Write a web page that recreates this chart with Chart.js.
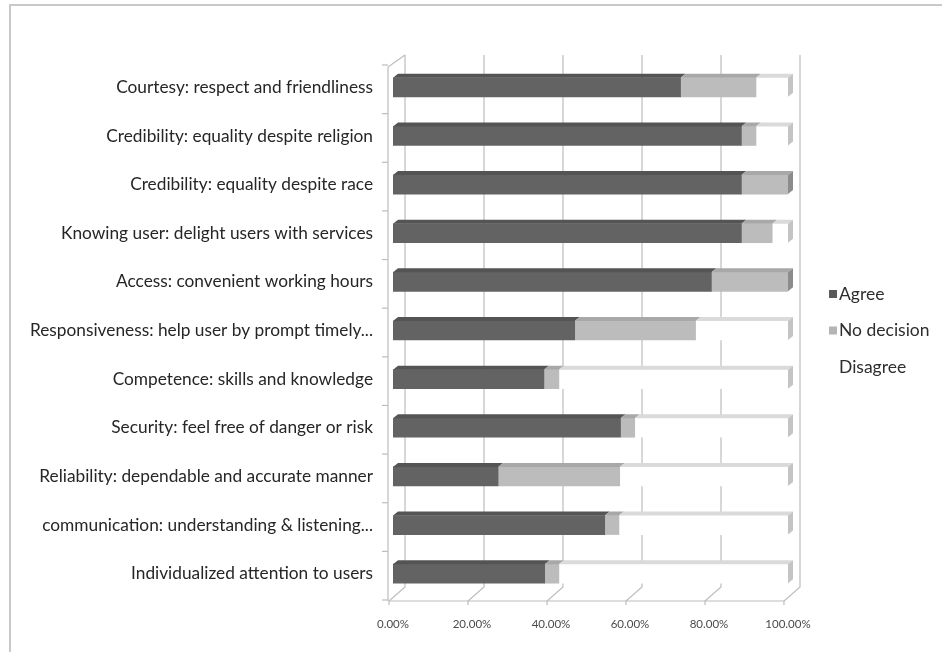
<!DOCTYPE html>
<html>
<head>
<meta charset="utf-8">
<script src="https://cdn.jsdelivr.net/npm/chart.js@4/dist/chart.umd.min.js"></script>
<style>
  html, body { margin: 0; padding: 0; background: #ffffff; }
  #wrap { position: relative; width: 942px; height: 652px; }
</style>
</head>
<body>
<div id="wrap"><canvas id="c" width="942" height="652"></canvas></div>
<script>
// Service quality dimensions (top to bottom)
const categories = [
  'Courtesy: respect and friendliness',
  'Credibility: equality despite religion',
  'Credibility: equality despite race',
  'Knowing user: delight users with services',
  'Access: convenient working hours',
  'Responsiveness: help user by prompt timely...',
  'Competence: skills and knowledge',
  'Security: feel free of danger or risk',
  'Reliability: dependable and accurate manner',
  'communication: understanding & listening...',
  'Individualized attention to users'
];
// Share of respondents (%)
const agree      = [72.8, 88.2, 88.2, 88.2, 80.6, 46.0, 38.2, 57.6, 26.6, 53.6, 38.4];
const noDecision = [19.1,  3.7, 11.8,  7.8, 19.4, 30.6,  3.8,  3.6, 30.8,  3.6,  3.6];
const disagree   = [ 8.1,  8.1,  0.0,  4.0,  0.0, 23.4, 58.0, 38.8, 42.6, 42.8, 58.0];
const seriesNames = ['Agree', 'No decision', 'Disagree'];
const xTicks = [0, 20, 40, 60, 80, 100];

// face colours per series: front, top, side
const faces = [
  { front: '#636363', top: '#545454', side: '#464646', legend: '#5a5a5a' },
  { front: '#bcbcbc', top: '#a8a8a8', side: '#8c8c8c', legend: '#b4b4b4' },
  { front: '#ffffff', top: '#dadada', side: '#c4c4c4', legend: '#ffffff' }
];

const DX = 5, DY = -4;          // bar depth
const F_OFF = -4, B_OFF = 12;   // floor front / back-wall offsets from bar front
const FONT = 'Lato, "Open Sans", sans-serif';

const frame = {
  id: 'frame',
  beforeDraw(chart) {
    const ctx = chart.ctx;
    ctx.save();
    ctx.strokeStyle = '#c9c9c9';
    ctx.lineWidth = 2;
    ctx.beginPath();
    ctx.moveTo(10, 652); ctx.lineTo(10, 5); ctx.lineTo(942, 5);
    ctx.stroke();
    ctx.restore();
  }
};

const walls = {
  id: 'walls',
  beforeDatasetsDraw(chart) {
    const { ctx, chartArea: a, scales } = chart;
    const xs = scales.x;
    const frontBottom = a.bottom + 3, backBottom = a.bottom - 11;
    const backTop = a.top - 8, frontTop = a.top + 4;
    ctx.save();
    ctx.strokeStyle = '#bdbdbd';
    ctx.lineWidth = 1.2;
    // back wall gridlines + floor diagonals
    xTicks.forEach(v => {
      const p = xs.getPixelForValue(v);
      ctx.beginPath();
      ctx.moveTo(p + B_OFF, backTop);
      ctx.lineTo(p + B_OFF, backBottom);
      ctx.lineTo(p + F_OFF, frontBottom);
      ctx.lineTo(p + F_OFF, frontBottom + 4);
      ctx.stroke();
    });
    // floor front edge
    const p0 = xs.getPixelForValue(0), p1 = xs.getPixelForValue(100);
    ctx.beginPath();
    ctx.moveTo(p0 + F_OFF, frontBottom);
    ctx.lineTo(p1 + F_OFF, frontBottom);
    ctx.stroke();
    // left wall front edge and top
    ctx.beginPath();
    ctx.moveTo(p0 + F_OFF - 1, frontBottom);
    ctx.lineTo(p0 + F_OFF - 1, frontTop);
    ctx.lineTo(p0 + B_OFF, backTop);
    ctx.stroke();
    // category separators on the vertical axis
    const step = (a.bottom - a.top) / categories.length;
    for (let i = 0; i <= categories.length; i++) {
      const y = a.top + i * step + 2;
      ctx.beginPath();
      ctx.moveTo(p0 + F_OFF - 7, y);
      ctx.lineTo(p0 + F_OFF - 1, y);
      ctx.stroke();
    }
    ctx.restore();
  },
  afterDatasetsDraw(chart) {
    const ctx = chart.ctx;
    ctx.save();
    categories.forEach((_, i) => {
      let last = -1;
      chart.data.datasets.forEach((ds, d) => {
        const el = chart.getDatasetMeta(d).data[i];
        const { x, base, y, height } = el.getProps(['x', 'base', 'y', 'height'], true);
        if (Math.abs(x - base) < 0.5) return;
        const top = y - height / 2;
        ctx.fillStyle = faces[d].top;
        ctx.beginPath();
        ctx.moveTo(base, top);
        ctx.lineTo(x, top);
        ctx.lineTo(x + DX, top + DY);
        ctx.lineTo(base + DX, top + DY);
        ctx.closePath();
        ctx.fill();
        last = d;
      });
      if (last >= 0) {
        const el = chart.getDatasetMeta(last).data[i];
        const { x, y, height } = el.getProps(['x', 'y', 'height'], true);
        const top = y - height / 2;
        ctx.fillStyle = faces[last].side;
        ctx.beginPath();
        ctx.moveTo(x, top);
        ctx.lineTo(x + DX, top + DY);
        ctx.lineTo(x + DX, top + DY + height);
        ctx.lineTo(x, top + height);
        ctx.closePath();
        ctx.fill();
      }
    });
    ctx.restore();
  }
};

const sideLegend = {
  id: 'sideLegend',
  afterDraw(chart) {
    const { ctx, chartArea: a } = chart;
    const cx = a.right + 41, cy = (a.top + a.bottom) / 2;
    ctx.save();
    ctx.font = '17.5px ' + FONT;
    ctx.textBaseline = 'middle';
    chart.data.datasets.forEach((ds, d) => {
      const y = cy + (d - 1) * 36.5;
      ctx.fillStyle = faces[d].legend;
      ctx.fillRect(cx, y - 4, 8, 8);
      ctx.fillStyle = '#2e2e2e';
      ctx.fillText(ds.label, cx + 10, y);
    });
    ctx.restore();
  }
};

const seriesData = [agree, noDecision, disagree];

new Chart(document.getElementById('c'), {
  type: 'bar',
  data: {
    labels: categories,
    datasets: seriesNames.map((name, d) => ({
      label: name,
      data: seriesData[d],
      backgroundColor: faces[d].front,
      borderWidth: 0,
      barThickness: 19
    }))
  },
  options: {
    indexAxis: 'y',
    responsive: false,
    animation: false,
    layout: { padding: { top: 63, right: 154, bottom: 14, left: 0 } },
    plugins: { legend: { display: false }, tooltip: { enabled: false } },
    scales: {
      x: {
        stacked: true,
        min: 0, max: 100,
        afterFit(s) { s.height = 40; },
        afterBuildTicks(s) { s.ticks = xTicks.map(v => ({ value: v })); },
        grid: { display: false, drawTicks: false },
        border: { display: false },
        ticks: {
          padding: 19,
          color: '#4a4a4a',
          font: { family: FONT, size: 11.5 },
          callback: v => v.toFixed(2) + '%'
        }
      },
      y: {
        stacked: true,
        afterFit(s) { s.width = 393; },
        grid: { display: false, drawTicks: false },
        border: { display: false },
        ticks: {
          padding: 20,
          color: '#262626',
          font: { family: FONT, size: 17.3 }
        }
      }
    }
  },
  plugins: [frame, walls, sideLegend]
});
</script>
</body>
</html>
